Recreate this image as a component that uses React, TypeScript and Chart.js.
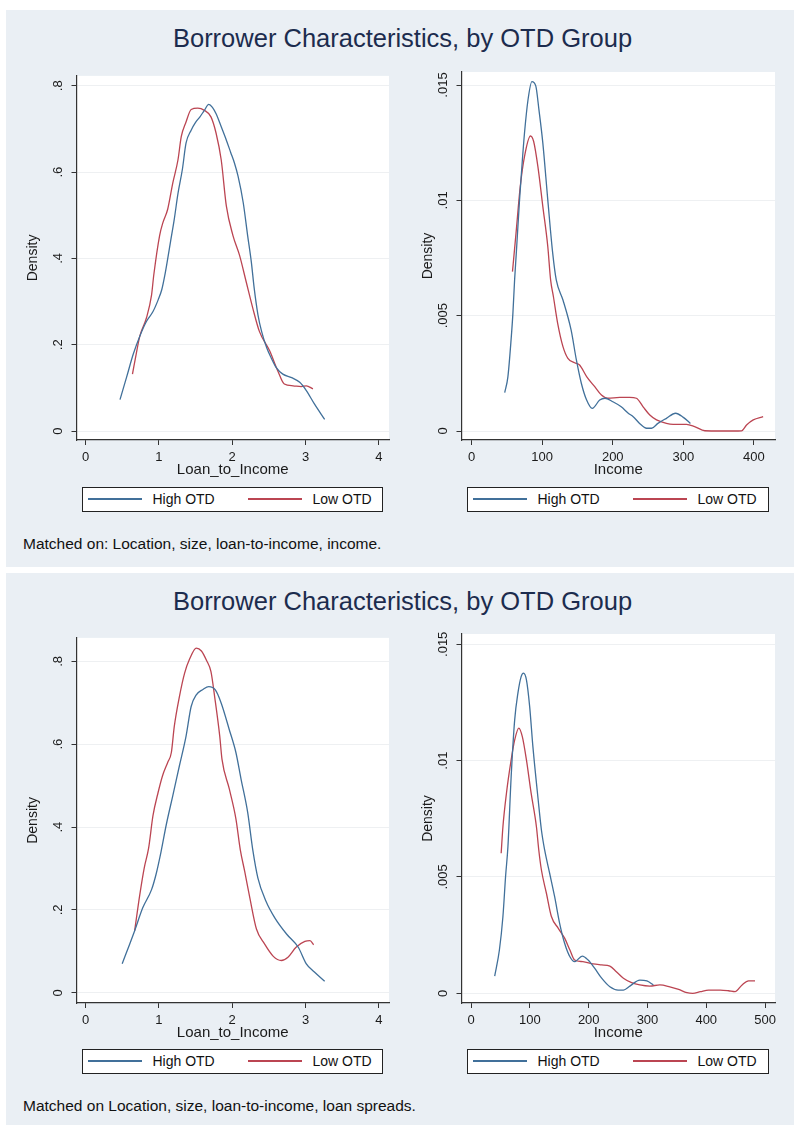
import React, { useEffect, useRef } from "react";
import { Chart, registerables } from "chart.js";

Chart.register(...registerables);

const FONT = "'Liberation Sans', Arial, Helvetica, sans-serif";
Chart.defaults.font.family = FONT;

// ---------- text ----------
const panelTitle = "Borrower Characteristics, by OTD Group";
const noteTop = "Matched on: Location, size, loan-to-income, income.";
const noteBottom = "Matched on Location, size, loan-to-income, loan spreads.";
const seriesNames = ["High OTD", "Low OTD"];
const ltiAxisTitle = "Loan_to_Income";
const incomeAxisTitle = "Income";
const densityTitle = "Density";

// ---------- ticks ----------
const ltiTicks = [0, 1, 2, 3, 4];
const ltiTickLabels = ["0", "1", "2", "3", "4"];
const ltiDensityTicks = [0, 0.2, 0.4, 0.6, 0.8];
const ltiDensityLabels = ["0", ".2", ".4", ".6", ".8"];
const incomeTicksTop = [0, 100, 200, 300, 400];
const incomeTickLabelsTop = ["0", "100", "200", "300", "400"];
const incomeTicksBottom = [0, 100, 200, 300, 400, 500];
const incomeTickLabelsBottom = ["0", "100", "200", "300", "400", "500"];
const incomeDensityTicks = [0, 0.005, 0.01, 0.015];
const incomeDensityLabels = ["0", ".005", ".01", ".015"];

// ---------- data: top panel, loan-to-income ----------
const ltiTopHighX = [0.47, 0.56, 0.65, 0.74, 0.83, 0.92, 0.99, 1.04, 1.08, 1.12, 1.16, 1.21, 1.26, 1.32, 1.37, 1.44, 1.5, 1.56, 1.62, 1.68, 1.73, 1.78, 1.85, 1.92, 1.98, 2.03, 2.08, 2.15, 2.21, 2.26, 2.3, 2.35, 2.4, 2.47, 2.53, 2.6, 2.69, 2.81, 2.92, 3.01, 3.12, 3.26];
const ltiTopHighY = [0.073, 0.125, 0.178, 0.22, 0.254, 0.277, 0.304, 0.328, 0.36, 0.399, 0.44, 0.491, 0.55, 0.606, 0.667, 0.697, 0.715, 0.728, 0.743, 0.757, 0.75, 0.735, 0.705, 0.674, 0.645, 0.621, 0.59, 0.529, 0.453, 0.392, 0.33, 0.27, 0.231, 0.193, 0.17, 0.147, 0.132, 0.124, 0.113, 0.094, 0.063, 0.027];
const ltiTopLowX = [0.64, 0.69, 0.74, 0.83, 0.9, 0.93, 1.01, 1.055, 1.12, 1.19, 1.26, 1.305, 1.37, 1.44, 1.53, 1.62, 1.71, 1.78, 1.85, 1.92, 2.01, 2.1, 2.19, 2.28, 2.37, 2.51, 2.62, 2.71, 2.83, 2.94, 3.01, 3.1];
const ltiTopLowY = [0.132, 0.178, 0.22, 0.262, 0.315, 0.361, 0.453, 0.483, 0.514, 0.575, 0.628, 0.682, 0.716, 0.745, 0.748, 0.743, 0.728, 0.69, 0.628, 0.521, 0.453, 0.407, 0.346, 0.285, 0.231, 0.186, 0.14, 0.109, 0.105, 0.103, 0.105, 0.098];

// ---------- data: top panel, income ----------
const incTopHighX = [47, 51.5, 56, 58.6, 61, 63.4, 68, 72, 75, 80, 85.5, 91, 95.5, 101, 108, 115, 120, 129.5, 141, 148.5, 155.5, 163, 171, 181.5, 189, 200, 212, 222, 229, 238, 248, 255, 264, 276, 289, 300, 310];
const incTopHighY = [0.00166, 0.00235, 0.00395, 0.0051, 0.00655, 0.0077, 0.01002, 0.01175, 0.01291, 0.01436, 0.01515, 0.01496, 0.01392, 0.01248, 0.01002, 0.0077, 0.00655, 0.00568, 0.00438, 0.00308, 0.00207, 0.00134, 0.00098, 0.00134, 0.00142, 0.00127, 0.00105, 0.00077, 0.00062, 0.00033, 0.00012, 0.00012, 0.00033, 0.00055, 0.00077, 0.00059, 0.00033];
const incTopLowX = [58, 63, 69, 75, 83.5, 88, 94, 101, 108, 112, 116, 122, 129.5, 136.5, 146, 153, 163, 174.5, 184, 193, 210, 224, 233.5, 243, 252.5, 262, 276, 285.5, 304.5, 316, 330.5, 352, 371, 382.5, 389.5, 399, 413];
const incTopLowY = [0.00691, 0.00857, 0.0106, 0.0119, 0.01279, 0.01255, 0.01146, 0.00973, 0.008, 0.00655, 0.00582, 0.00467, 0.00366, 0.00315, 0.00296, 0.00286, 0.00236, 0.00192, 0.00156, 0.00142, 0.00146, 0.00146, 0.00142, 0.00105, 0.00069, 0.00048, 0.00033, 0.00029, 0.00029, 0.00019, 0.00001, 0, 0, 0.00001, 0.00026, 0.00048, 0.00062];

// ---------- data: bottom panel, loan-to-income ----------
const ltiBotHighX = [0.5, 0.67, 0.78, 0.9, 0.96, 1.03, 1.1, 1.19, 1.28, 1.37, 1.44, 1.51, 1.6, 1.68, 1.77, 1.85, 1.96, 2.05, 2.12, 2.21, 2.28, 2.35, 2.46, 2.58, 2.74, 2.9, 3.01, 3.12, 3.26];
const ltiBotHighY = [0.07, 0.15, 0.205, 0.249, 0.285, 0.341, 0.405, 0.476, 0.548, 0.619, 0.691, 0.719, 0.732, 0.739, 0.731, 0.699, 0.635, 0.58, 0.516, 0.436, 0.345, 0.277, 0.221, 0.181, 0.142, 0.11, 0.07, 0.05, 0.028];
const ltiBotLowX = [0.67, 0.74, 0.8, 0.86, 0.92, 0.99, 1.05, 1.12, 1.17, 1.21, 1.28, 1.35, 1.42, 1.51, 1.58, 1.65, 1.71, 1.76, 1.83, 1.86, 1.96, 2.05, 2.11, 2.17, 2.24, 2.33, 2.44, 2.56, 2.67, 2.76, 2.87, 2.99, 3.06, 3.11];
const ltiBotLowY = [0.15, 0.237, 0.301, 0.349, 0.428, 0.484, 0.524, 0.556, 0.58, 0.643, 0.715, 0.771, 0.806, 0.832, 0.825, 0.802, 0.775, 0.715, 0.619, 0.564, 0.492, 0.42, 0.345, 0.293, 0.229, 0.154, 0.118, 0.088, 0.078, 0.086, 0.11, 0.124, 0.126, 0.116];

// ---------- data: bottom panel, income ----------
const incBotHighX = [40, 48, 54, 58.5, 62.5, 68, 74, 79.5, 85, 89, 94, 99.5, 105, 114, 119.5, 125, 133.5, 142, 150.5, 159, 168, 176, 189, 199, 210, 222, 236, 250, 259, 270, 287, 299, 310];
const incBotHighY = [0.00074, 0.00186, 0.0033, 0.00502, 0.0063, 0.00931, 0.01175, 0.0129, 0.01361, 0.01376, 0.01347, 0.01232, 0.0106, 0.00831, 0.00702, 0.00616, 0.00516, 0.00415, 0.00301, 0.00215, 0.00157, 0.00136, 0.0016, 0.00143, 0.00108, 0.00065, 0.00028, 0.00014, 0.00014, 0.00031, 0.00057, 0.00053, 0.00036];
const incBotLowX = [51, 54, 60, 68, 74, 81, 87, 94, 102, 111, 115, 119.5, 128, 136.5, 148, 159, 168, 176, 190, 207.5, 222, 236, 247, 259, 273, 287, 304, 321, 338, 353, 367, 377, 390, 404, 424, 438, 449, 461, 472, 483];
const incBotLowY = [0.00602, 0.00716, 0.0086, 0.01003, 0.01089, 0.0114, 0.01103, 0.01003, 0.0086, 0.00716, 0.00616, 0.0053, 0.0043, 0.0033, 0.0028, 0.00237, 0.00186, 0.00143, 0.00136, 0.00126, 0.00122, 0.00117, 0.00093, 0.00065, 0.00046, 0.00036, 0.00031, 0.00036, 0.00028, 0.00017, 0.00003, 0, 0.00007, 0.00014, 0.00014, 0.00011, 0.00007, 0.00036, 0.00053, 0.00053];

// ---------- styles ----------
const HIGH_COLOR = "#41709a";
const LOW_COLOR = "#bb4552";
const PANEL_BG = "#eaeff4";
const AXIS_COLOR = "#333333";
const GRID_COLOR = "#eef0f2";
const TITLE_COLOR = "#1c2c4e";
const TICK_FONT_SIZE = 13;

type Series = { label: string; xs: number[]; ys: number[]; color: string };

type SubProps = {
  left: number;
  top: number;
  width: number;
  height: number;
  padRight: number;
  yAxisWidth: number;
  yTitlePad: number;
  xMin: number;
  xMax: number;
  yMin: number;
  yMax: number;
  xTicks: number[];
  xLabels: string[];
  yTicks: number[];
  yLabels: string[];
  xTitle: string;
  series: Series[];
};

const plotBgPlugin = {
  id: "plotBg",
  beforeDraw(chart: any) {
    const { ctx, chartArea } = chart;
    if (!chartArea) return;
    ctx.save();
    ctx.fillStyle = "#ffffff";
    ctx.fillRect(chartArea.left, chartArea.top, chartArea.right - chartArea.left, chartArea.bottom - chartArea.top);
    ctx.restore();
  },
};

function measureWidest(labels: string[], size: number): number {
  const c = document.createElement("canvas");
  const ctx = c.getContext("2d");
  if (!ctx) return 0;
  ctx.font = `${size}px ${FONT}`;
  return Math.max(...labels.map((l) => ctx.measureText(l).width));
}

function SubChart(p: SubProps) {
  const ref = useRef<HTMLCanvasElement | null>(null);
  useEffect(() => {
    if (!ref.current) return;
    const widest = measureWidest(p.yLabels, TICK_FONT_SIZE);
    const yPad = Math.max(0, 13.5 - widest / 2);
    const chart = new Chart(ref.current, {
      type: "line",
      data: {
        datasets: p.series.map((s) => ({
          label: s.label,
          data: s.xs.map((x, i) => ({ x, y: s.ys[i] })),
          borderColor: s.color,
          backgroundColor: s.color,
          borderWidth: 1.3,
          pointRadius: 0,
          fill: false,
          tension: 0.3,
          cubicInterpolationMode: "monotone",
        })),
      },
      options: {
        animation: false,
        responsive: false,
        devicePixelRatio: 1,
        layout: { padding: { top: 12, right: p.padRight, bottom: 0, left: 0 } },
        plugins: {
          legend: { display: false },
          tooltip: { enabled: false },
          title: { display: false },
        },
        scales: {
          x: {
            type: "linear",
            min: p.xMin,
            max: p.xMax,
            afterBuildTicks: (s: any) => {
              s.ticks = p.xTicks.map((v) => ({ value: v }));
            },
            afterFit: (s: any) => {
              s.height = 40;
            },
            ticks: {
              autoSkip: false,
              minRotation: 0,
              maxRotation: 0,
              padding: 5,
              color: "#1a1a1a",
              font: { size: TICK_FONT_SIZE },
              callback: (_v: any, i: number) => p.xLabels[i],
            },
            grid: {
              drawOnChartArea: false,
              drawTicks: true,
              tickLength: 5,
              tickColor: AXIS_COLOR,
              color: AXIS_COLOR,
            },
            border: { display: true, color: AXIS_COLOR, width: 1.2 },
            title: {
              display: true,
              text: p.xTitle,
              color: "#1a1a1a",
              font: { size: 15 },
              padding: { top: 0, bottom: 1 },
            },
          },
          y: {
            type: "linear",
            min: p.yMin,
            max: p.yMax,
            afterBuildTicks: (s: any) => {
              s.ticks = p.yTicks.map((v) => ({ value: v }));
            },
            afterFit: (s: any) => {
              s.width = p.yAxisWidth;
            },
            ticks: {
              autoSkip: false,
              minRotation: 90,
              maxRotation: 90,
              crossAlign: "center",
              padding: yPad,
              color: "#1a1a1a",
              font: { size: TICK_FONT_SIZE },
              callback: (_v: any, i: number) => p.yLabels[i],
            },
            grid: {
              color: GRID_COLOR,
              lineWidth: 1,
              drawTicks: true,
              tickLength: 5,
              tickColor: AXIS_COLOR,
            },
            border: { display: true, color: AXIS_COLOR, width: 1.2 },
            title: {
              display: true,
              text: densityTitle,
              color: "#1a1a1a",
              font: { size: 14 },
              padding: { top: p.yTitlePad, bottom: 0 },
            },
          },
        },
      } as any,
      plugins: [plotBgPlugin],
    });
    return () => chart.destroy();
  }, []);
  return (
    <canvas
      ref={ref}
      width={p.width}
      height={p.height}
      style={{ position: "absolute", left: p.left, top: p.top, width: p.width, height: p.height }}
    />
  );
}

function Legend({ left, top, width }: { left: number; top: number; width: number }) {
  const item = (x: number, color: string) => (
    <div
      style={{
        position: "absolute",
        left: x,
        top: 10,
        width: 54,
        height: 2,
        background: color,
      }}
    />
  );
  const text = (x: number, t: string) => (
    <div style={{ position: "absolute", left: x, top: 0, height: 22, lineHeight: "22px", whiteSpace: "nowrap" }}>{t}</div>
  );
  return (
    <div
      style={{
        position: "absolute",
        left,
        top,
        width,
        height: 25,
        boxSizing: "border-box",
        border: "1.5px solid #222",
        background: "#ffffff",
        fontFamily: FONT,
        fontSize: 14,
        color: "#111",
      }}
    >
      {item(4.5, HIGH_COLOR)}
      {text(69.5, seriesNames[0])}
      {item(164.5, LOW_COLOR)}
      {text(229.5, seriesNames[1])}
    </div>
  );
}

function Panel({
  top,
  height,
  offset,
  note,
  ltiHigh,
  ltiLow,
  incHigh,
  incLow,
  ltiY,
  incX,
  incY,
  incTicks,
  incLabels,
}: any) {
  const canvasTop = offset.canvasTop;
  const canvasH = offset.canvasH;
  return (
    <>
      <div style={{ position: "absolute", left: 6, top, width: 788, height, background: PANEL_BG }} />
      <div
        style={{
          position: "absolute",
          left: 0,
          top: offset.titleTop,
          width: 805,
          textAlign: "center",
          fontFamily: FONT,
          fontSize: 25.5,
          lineHeight: "30px",
          color: TITLE_COLOR,
          whiteSpace: "nowrap",
        }}
      >
        {panelTitle}
      </div>
      <SubChart
        left={10}
        top={canvasTop}
        width={390}
        height={canvasH}
        padRight={11}
        yAxisWidth={66.5}
        yTitlePad={14.6}
        xMin={-0.123}
        xMax={4.137}
        yMin={ltiY[0]}
        yMax={ltiY[1]}
        xTicks={ltiTicks}
        xLabels={ltiTickLabels}
        yTicks={ltiDensityTicks}
        yLabels={ltiDensityLabels}
        xTitle={ltiAxisTitle}
        series={[
          { label: seriesNames[0], xs: ltiHigh[0], ys: ltiHigh[1], color: HIGH_COLOR },
          { label: seriesNames[1], xs: ltiLow[0], ys: ltiLow[1], color: LOW_COLOR },
        ]}
      />
      <SubChart
        left={400}
        top={canvasTop}
        width={394}
        height={canvasH}
        padRight={19}
        yAxisWidth={61.5}
        yTitlePad={19.6}
        xMin={incX[0]}
        xMax={incX[1]}
        yMin={incY[0]}
        yMax={incY[1]}
        xTicks={incTicks}
        xLabels={incLabels}
        yTicks={incomeDensityTicks}
        yLabels={incomeDensityLabels}
        xTitle={incomeAxisTitle}
        series={[
          { label: seriesNames[0], xs: incHigh[0], ys: incHigh[1], color: HIGH_COLOR },
          { label: seriesNames[1], xs: incLow[0], ys: incLow[1], color: LOW_COLOR },
        ]}
      />
      <Legend left={82} top={offset.legendTop} width={301} />
      <Legend left={467} top={offset.legendTop} width={302} />
      <div
        style={{
          position: "absolute",
          left: 23,
          top: offset.noteTop,
          fontFamily: FONT,
          fontSize: 15.5,
          lineHeight: "18px",
          color: "#111",
          whiteSpace: "nowrap",
        }}
      >
        {note}
      </div>
    </>
  );
}

export default function App() {
  return (
    <div style={{ position: "absolute", left: 0, top: 0, width: 794, height: 1125, background: "#ffffff", overflow: "hidden" }}>
      <Panel
        top={10}
        height={557}
        offset={{ canvasTop: 60, canvasH: 420, titleTop: 22.7, legendTop: 487, noteTop: 535 }}
        note={noteTop}
        ltiHigh={[ltiTopHighX, ltiTopHighY]}
        ltiLow={[ltiTopLowX, ltiTopLowY]}
        incHigh={[incTopHighX, incTopHighY]}
        incLow={[incTopLowX, incTopLowY]}
        ltiY={[-0.0206, 0.8229]}
        incX={[-14.2, 429.8]}
        incY={[-0.00039, 0.015564]}
        incTicks={incomeTicksTop}
        incLabels={incomeTickLabelsTop}
      />
      <Panel
        top={573}
        height={552}
        offset={{ canvasTop: 622, canvasH: 421, titleTop: 586, legendTop: 1049, noteTop: 1097.3 }}
        note={noteBottom}
        ltiHigh={[ltiBotHighX, ltiBotHighY]}
        ltiLow={[ltiBotLowX, ltiBotLowY]}
        incHigh={[incBotHighX, incBotHighY]}
        incLow={[incBotLowX, incBotLowY]}
        ltiY={[-0.0246, 0.8566]}
        incX={[-16.5, 517]}
        incY={[-0.000417, 0.015443]}
        incTicks={incomeTicksBottom}
        incLabels={incomeTickLabelsBottom}
      />
    </div>
  );
}
